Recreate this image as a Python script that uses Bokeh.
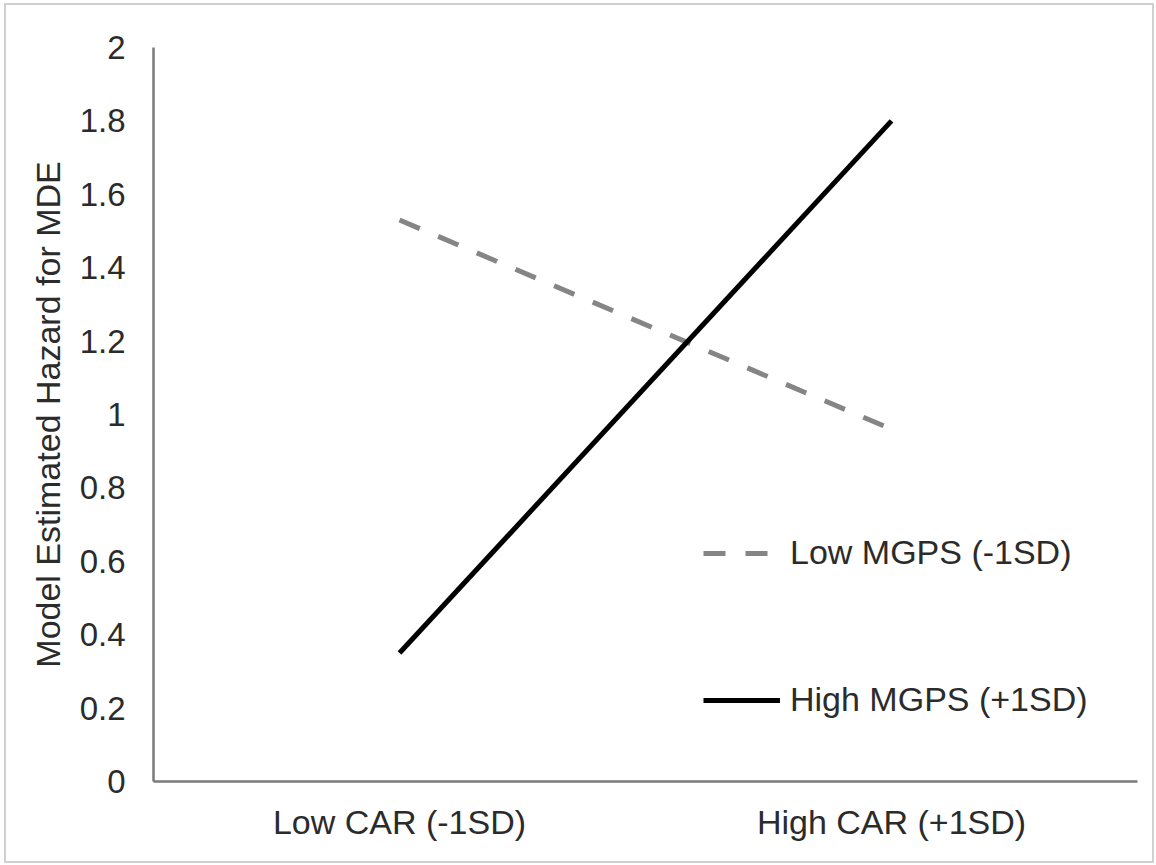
from bokeh.plotting import figure
from bokeh.models import Range1d, Legend, LegendItem, FactorRange
from bokeh.embed import file_html
from bokeh.resources import INLINE

categories = ["Low CAR (-1SD)", "High CAR (+1SD)"]
low_mgps = [1.53, 0.96]
high_mgps = [0.35, 1.80]
y_ticks = [0, 0.2, 0.4, 0.6, 0.8, 1.0, 1.2, 1.4, 1.6, 1.8, 2.0]
y_tick_labels = {0: "0", 0.2: "0.2", 0.4: "0.4", 0.6: "0.6", 0.8: "0.8", 1.0: "1",
                 1.2: "1.2", 1.4: "1.4", 1.6: "1.6", 1.8: "1.8", 2.0: "2"}

FONT = "Liberation Sans"
TXT = "#2b2b2b"

p = figure(width=1150, height=860, output_backend="svg", toolbar_location=None,
           x_range=FactorRange(*categories, range_padding=0), y_range=Range1d(0, 2),
           min_border_left=147, min_border_top=42, min_border_right=19, min_border_bottom=84)
p.styles = {"border": "2px solid #d0d0d0", "box-sizing": "border-box", "margin": "3px 0 0 4px"}
p.outline_line_color = None
p.xgrid.visible = False
p.ygrid.visible = False
p.background_fill_color = "white"
p.border_fill_color = "white"

r1 = p.line(categories, low_mgps, line_color="#858585", line_width=5, line_dash="22 20")
r2 = p.line(categories, high_mgps, line_color="#000000", line_width=5)

for ax in (p.xaxis[0], p.yaxis[0]):
    ax.axis_line_color = "#7a7a7a"
    ax.axis_line_width = 2.5
    ax.major_tick_line_color = None
    ax.minor_tick_line_color = None
    ax.major_label_text_font = FONT
    ax.major_label_text_color = TXT

p.yaxis.major_label_text_font_size = "33px"
p.xaxis.major_label_text_font_size = "34px"
p.yaxis.ticker = y_ticks
p.yaxis.major_label_overrides = y_tick_labels
p.yaxis.major_label_standoff = 22
p.yaxis.axis_label = "Model Estimated Hazard for MDE"
p.yaxis.axis_label_text_font = FONT
p.yaxis.axis_label_text_font_size = "34px"
p.yaxis.axis_label_text_font_style = "normal"
p.yaxis.axis_label_text_color = TXT
p.yaxis.axis_label_standoff = 10
p.xaxis.major_label_standoff = 15

legend = Legend(items=[LegendItem(label="Low MGPS (-1SD)", renderers=[r1]),
                       LegendItem(label="High MGPS (+1SD)", renderers=[r2])],
                location=(550, 62))
legend.padding = 0
legend.margin = 0
legend.border_line_color = None
legend.background_fill_alpha = 0
legend.glyph_width = 77
legend.glyph_height = 36
legend.label_height = 36
legend.spacing = 108
legend.label_standoff = 10
legend.label_text_font = FONT
legend.label_text_font_size = "34px"
legend.label_text_color = TXT
p.add_layout(legend, "center")

open("out.html", "w").write(file_html(p, INLINE))
